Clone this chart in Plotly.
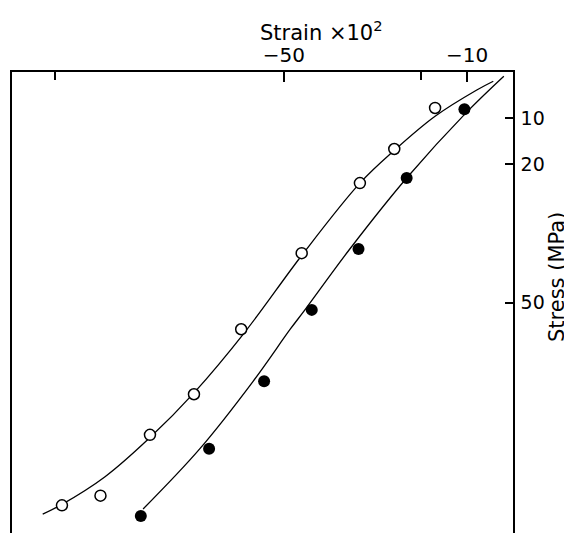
import plotly.graph_objects as go

# --- data ---
open_strain = [-17.0, -25.9, -33.4, -46.1, -59.3, -69.6, -79.2, -90.0, -98.4]
open_stress = [7.8, 16.7, 24.1, 39.3, 55.8, 69.9, 78.7, 91.9, 94.0]

filled_strain = [-10.6, -23.2, -33.7, -43.9, -54.3, -66.3, -81.2]
filled_stress = [8.1, 23.0, 38.4, 51.6, 67.1, 81.7, 96.3]

open_curve_strain = [-102.6, -98.4, -89.0, -79.2, -69.6, -58.4, -46.1, -33.4, -25.9, -17.0, -7.9, -4.3]
open_curve_stress = [95.9, 93.8, 87.8, 79.3, 69.6, 56.3, 39.8, 24.1, 17.0, 9.6, 3.9, 2.0]

filled_curve_strain = [-80.7, -68.3, -56.7, -48.6, -45.4, -35.6, -23.2, -10.1, -2.0]
filled_curve_stress = [94.8, 81.7, 67.1, 55.8, 51.6, 38.4, 23.0, 8.7, 0.9]

x_major_ticks = [-50, -10]
x_major_text = ["\u221250", "\u221210"]
x_minor_ticks = [-100, -20]
y_tickvals = [10, 20, 50]
y_ticktext = ["10", "20", "50"]

FONT = "DejaVu Sans"

# page body has an 8px default margin, so the figure starts at (8, 8) in the window
W, H = 564, 525
L, R, T, B = 4, 59, 64, 0
PW, PH = W - L - R, H - T - B

fig = go.Figure()
for cx, cy in [(open_curve_strain, open_curve_stress), (filled_curve_strain, filled_curve_stress)]:
    fig.add_trace(go.Scatter(x=cx, y=cy, mode="lines",
                             line=dict(color="black", width=1.3, shape="spline", smoothing=1.0),
                             hoverinfo="skip", showlegend=False))
fig.add_trace(go.Scatter(x=open_strain, y=open_stress, mode="markers",
                         marker=dict(symbol="circle", size=11, color="white",
                                     line=dict(color="black", width=1.5)),
                         showlegend=False))
fig.add_trace(go.Scatter(x=filled_strain, y=filled_stress, mode="markers",
                         marker=dict(symbol="circle", size=12, color="black",
                                     line=dict(color="black", width=0)),
                         showlegend=False))

fig.update_layout(
    width=W, height=H,
    margin=dict(l=L, r=R, t=T, b=B),
    paper_bgcolor="white", plot_bgcolor="white",
    font=dict(family=FONT, size=20, color="black"),
    xaxis=dict(side="top", range=[-109.3, 0], showgrid=False, zeroline=False,
               showline=True, linecolor="black", linewidth=1.5, mirror=False,
               ticks="inside", ticklen=10, tickwidth=1.5, tickcolor="black",
               tickmode="array", tickvals=x_major_ticks, ticktext=x_major_text,
               minor=dict(tickmode="array", tickvals=x_minor_ticks, ticks="inside",
                          ticklen=8, tickwidth=1.5, tickcolor="black", showgrid=False),
               tickfont=dict(family=FONT, size=20, color="black")),
    yaxis=dict(side="right", range=[100, 0], showgrid=False, zeroline=False,
               showline=True, linecolor="black", linewidth=1.5, mirror=True,
               ticks="inside", ticklen=8, tickwidth=1.5, tickcolor="black",
               tickvals=y_tickvals, ticktext=y_ticktext, ticklabelstandoff=2,
               tickfont=dict(family=FONT, size=19, color="black")),
    annotations=[
        dict(text="Strain \u00d710<sup>2</sup>", xref="paper", yref="paper",
             x=(313 - L) / PW, y=1 + (T - 23) / PH, xanchor="center", yanchor="middle",
             showarrow=False, font=dict(family=FONT, size=21, color="black")),
        dict(text="Stress (MPa)", xref="paper", yref="paper",
             x=(549 - L) / PW, y=1 - (269 - T) / PH, xanchor="center", yanchor="middle",
             textangle=-90, showarrow=False, font=dict(family=FONT, size=21, color="black")),
    ],
)

fig.write_html("out.html")
